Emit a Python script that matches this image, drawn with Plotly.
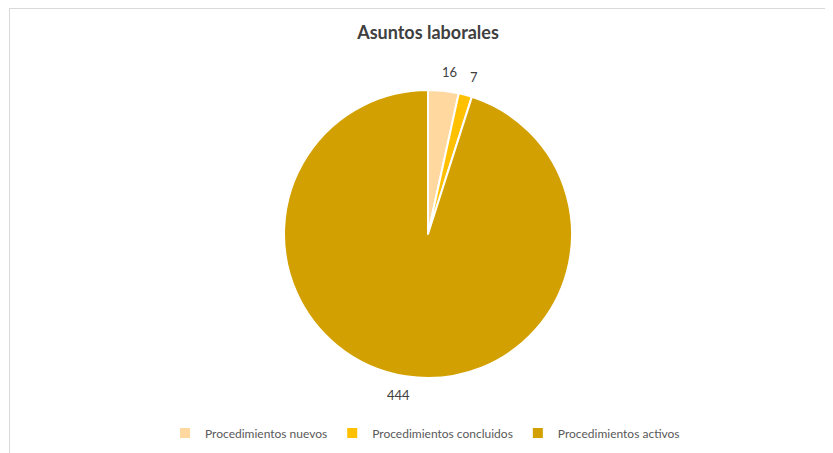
import math
import plotly.graph_objects as go

W, H = 833, 453
OFF = 8  # page body margin: figure starts 8px in

labels = ["Procedimientos nuevos", "Procedimientos concluidos", "Procedimientos activos"]
values = [16, 7, 444]
colors = ["#FFD8A0", "#FFC000", "#D2A000"]

TEXT = "#404040"
FONT = "Lato, Open Sans, Liberation Sans, sans-serif"

# pie geometry in screen pixels
CX, CY, R = 428, 234, 144


def px_x(x):
    return (x - OFF) / W


def px_y(y):
    return 1 - (y - OFF) / H


fig = go.Figure(
    go.Pie(
        labels=labels,
        values=values,
        sort=False,
        direction="clockwise",
        rotation=0,
        marker=dict(colors=colors, line=dict(color="white", width=2)),
        textinfo="none",
        domain=dict(x=[px_x(CX - R), px_x(CX + R)], y=[px_y(CY + R), px_y(CY - R)]),
        hoverinfo="label+value+percent",
    )
)

# value labels just outside the rim, along each slice's bisector
total = sum(values)
cum = 0
for v in values:
    mid = (cum + v / 2) / total * 2 * math.pi
    cum += v
    rr = R + 19
    sx = math.sin(mid)
    nudge = 4 if sx > 0 else -4
    fig.add_annotation(
        x=px_x(CX + rr * sx + nudge),
        y=px_y(CY - rr * math.cos(mid)),
        xref="paper", yref="paper",
        text=str(v), showarrow=False,
        font=dict(size=13, color=TEXT, family=FONT),
        xanchor="center", yanchor="middle",
    )

# thin chart-area border like the spreadsheet export
fig.add_shape(
    type="rect", xref="paper", yref="paper",
    x0=1.5 / W, x1=1.05, y0=-0.05, y1=1 - 0.5 / H,
    line=dict(color="#d9d9d9", width=1),
)

fig.update_layout(
    width=W,
    height=H,
    margin=dict(l=0, r=0, t=0, b=0),
    paper_bgcolor="white",
    plot_bgcolor="white",
    font=dict(family=FONT, color=TEXT),
    title=dict(
        text="<b>Asuntos laborales</b>",
        x=px_x(428), xanchor="center",
        y=px_y(33), yanchor="middle",
        font=dict(size=18, color=TEXT, family=FONT),
    ),
    showlegend=True,
    legend=dict(
        orientation="h",
        x=px_x(425), xanchor="center",
        y=px_y(433), yanchor="middle",
        font=dict(size=12, color="#595959", family=FONT),
        itemwidth=30,
    ),
)

fig.write_html("out.html")
